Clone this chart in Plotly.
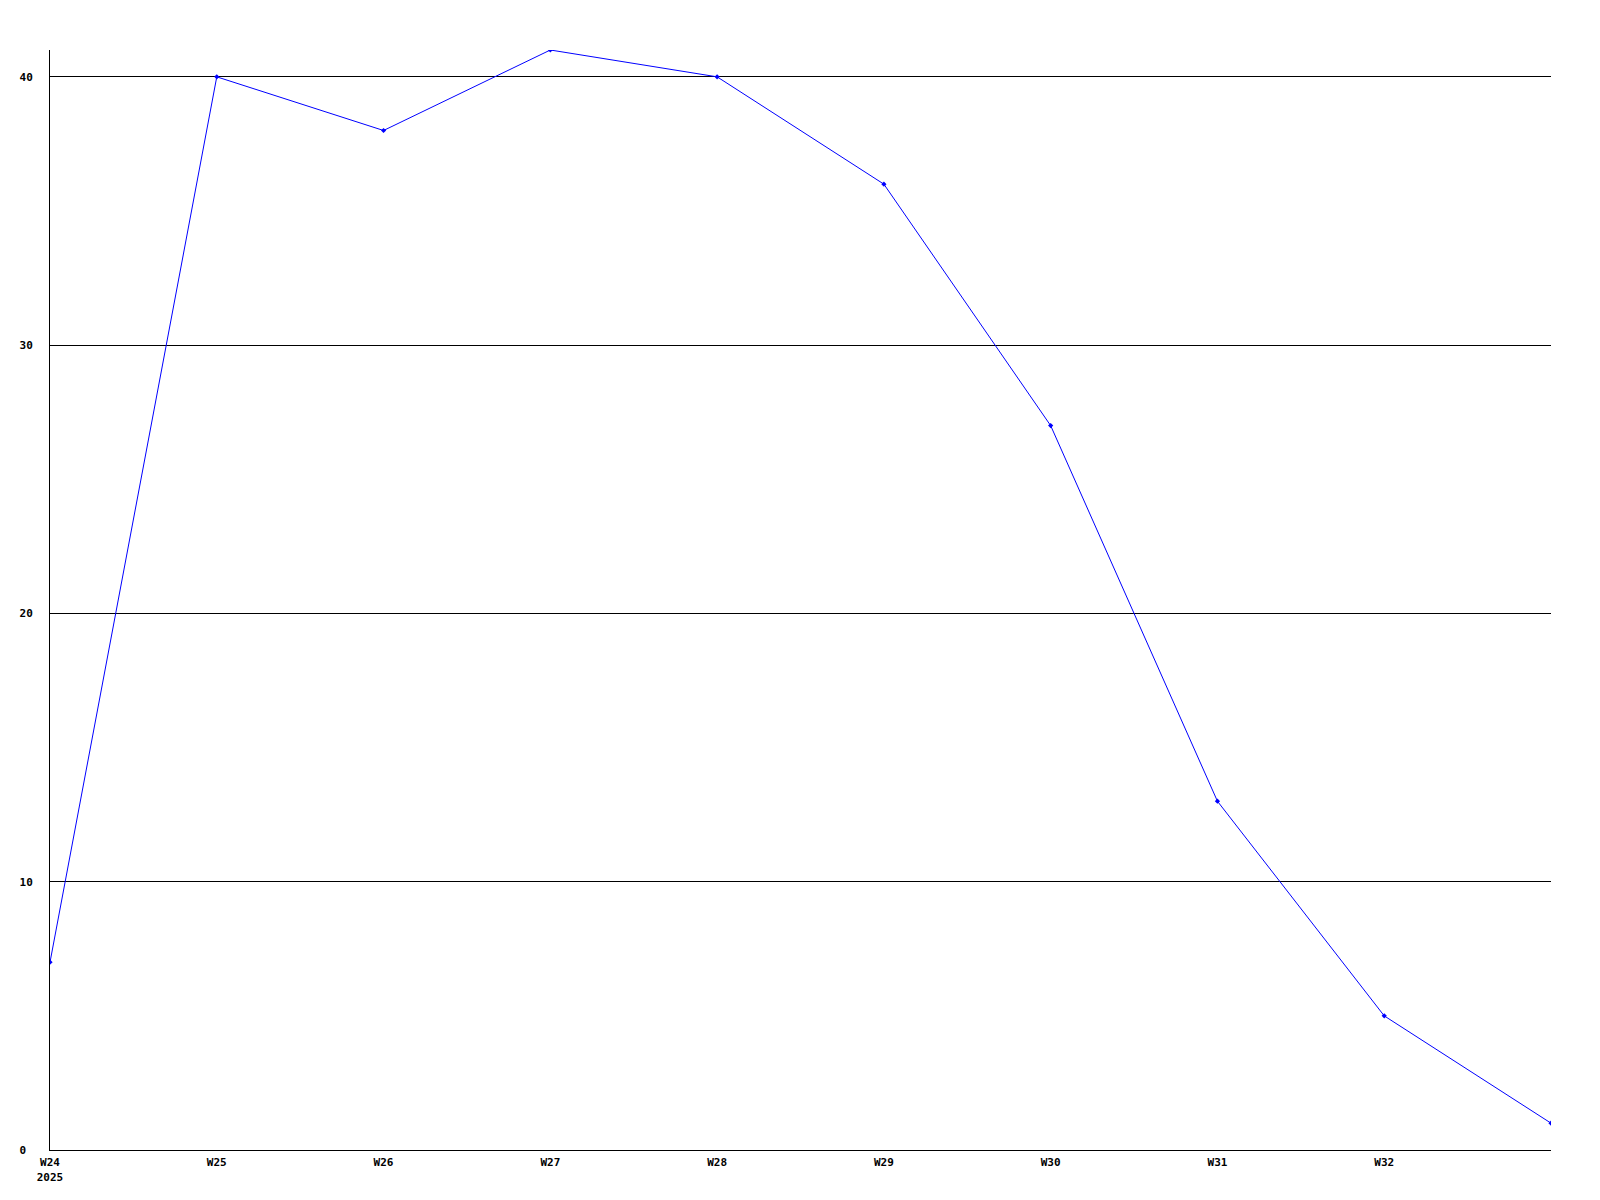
import plotly.graph_objects as go

weeks = ["W24", "W25", "W26", "W27", "W28", "W29", "W30", "W31", "W32", "W33"]
values = [7, 40, 38, 41, 40, 36, 27, 13, 5, 1]
tick_labels = ["W24<br>2025", "W25", "W26", "W27", "W28", "W29", "W30", "W31", "W32"]
y_ticks = [0, 10, 20, 30, 40]
y_tick_labels = ["0\u00a0", "10", "20", "30", "40"]

x_idx = list(range(len(weeks)))

fig = go.Figure()
fig.add_trace(go.Scatter(
    x=x_idx, y=values, mode="lines+markers",
    line=dict(color="#0000ff", width=1),
    marker=dict(color="#0000ff", size=4, symbol="diamond"),
    text=weeks, hoverinfo="text+y",
))

font = dict(family="DejaVu Sans Mono", size=11, color="black", weight="bold")
fig.update_layout(
    width=1600, height=1200,
    margin=dict(l=42, r=57, t=42, b=58, autoexpand=False),
    paper_bgcolor="white", plot_bgcolor="white",
    showlegend=False,
    xaxis=dict(
        range=[0, 9], tickvals=x_idx[:len(tick_labels)], ticktext=tick_labels,
        showgrid=False, zeroline=False, showline=True, linecolor="black", linewidth=1,
        ticks="", tickfont=font, ticklabelstandoff=2, automargin=False,
    ),
    yaxis=dict(
        range=[0, 41], tickvals=y_ticks, ticktext=y_tick_labels,
        showgrid=True, gridcolor="black", gridwidth=1,
        zeroline=False, showline=True, linecolor="black", linewidth=1,
        ticks="", tickfont=font, ticklabelstandoff=14, automargin=False,
    ),
)
fig.write_html("out.html")
